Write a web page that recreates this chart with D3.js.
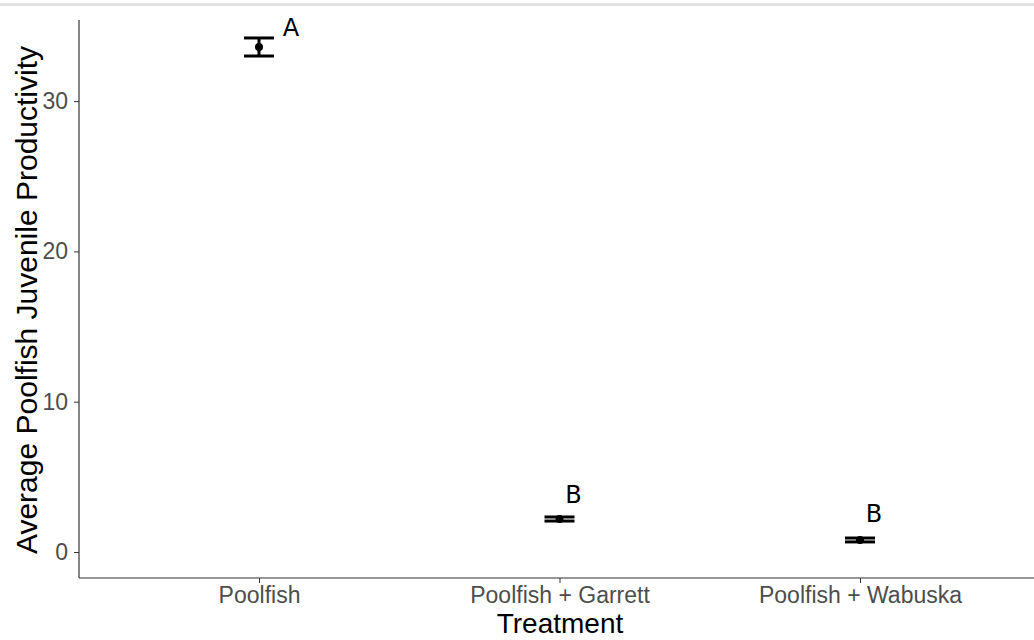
<!DOCTYPE html>
<html>
<head>
<meta charset="utf-8">
<script src="https://cdn.jsdelivr.net/npm/d3@7"></script>
<style>
  body { margin: 0; background: #fff; }
  svg { display: block; font-family: "Liberation Sans", Arial, sans-serif; }
</style>
</head>
<body>
<div id="chart"></div>
<script>
// chart values
const treatments = ['Poolfish', 'Poolfish + Garrett', 'Poolfish + Wabuska'];
const means = [33.6, 2.2, 0.8];
const lowers = [33.0, 2.06, 0.67];
const uppers = [34.2, 2.33, 0.93];
const letters = ['A', 'B', 'B'];
const yTicks = [0, 10, 20, 30];

const width = 1034, height = 640;
const padLeft = 79, padRight = 1034, padTop = 20, padBottom = 578;
// letters were hand placed in the original, so nudge each one
const letterDx = [32, 14, 14];
const letterDy = [-2, -14, -16];

const svg = d3.select('#chart').append('svg')
  .attr('width', width)
  .attr('height', height);

// thin grey band at the very top
svg.append('rect')
  .attr('x', 0).attr('y', 3).attr('width', width).attr('height', 3)
  .attr('fill', '#e2e2e2');

const x = d3.scalePoint()
  .domain(treatments)
  .range([259, 860]);

const y = d3.scaleLinear()
  .domain([0, 10])
  .range([552, 401.7]);

// axes
const yAxis = d3.axisLeft(y).tickValues(yTicks).tickSize(5).tickPadding(6);
const gy = svg.append('g')
  .attr('transform', `translate(${padLeft},0)`)
  .call(yAxis);
gy.select('.domain').attr('d', `M0,${padTop}V${padBottom}`).attr('stroke', '#333').attr('stroke-width', 1.2);
gy.selectAll('.tick line').attr('stroke', '#333');
gy.selectAll('.tick text').attr('fill', '#4d4d4d').style('font-size', '23px');

const xAxis = d3.axisBottom(x).tickSize(5).tickPadding(4);
const gx = svg.append('g')
  .attr('transform', `translate(0,${padBottom})`)
  .call(xAxis);
gx.select('.domain').attr('d', `M${padLeft},0H${padRight}`).attr('stroke', '#333').attr('stroke-width', 1.2);
gx.selectAll('.tick line').attr('stroke', '#333');
gx.selectAll('.tick text').attr('fill', '#4d4d4d').style('font-size', '23px');

// axis titles
svg.append('text')
  .attr('x', 560).attr('y', 633)
  .attr('text-anchor', 'middle')
  .style('font-size', '28px')
  .text('Treatment');

svg.append('text')
  .attr('transform', `translate(37,${(padTop + padBottom) / 2 + 1}) rotate(-90)`)
  .attr('text-anchor', 'middle')
  .style('font-size', '30px')
  .text('Average Poolfish Juvenile Productivity');

// error bars
const hw = 15;
const bars = svg.append('g').selectAll('g')
  .data(treatments)
  .enter().append('g');

bars.append('line')
  .attr('x1', d => x(d)).attr('x2', d => x(d))
  .attr('y1', (d, i) => y(uppers[i])).attr('y2', (d, i) => y(lowers[i]))
  .attr('stroke', '#000').attr('stroke-width', 3);
bars.append('line')
  .attr('x1', d => x(d) - hw).attr('x2', d => x(d) + hw)
  .attr('y1', (d, i) => y(uppers[i])).attr('y2', (d, i) => y(uppers[i]))
  .attr('stroke', '#000').attr('stroke-width', 3);
bars.append('line')
  .attr('x1', d => x(d) - hw).attr('x2', d => x(d) + hw)
  .attr('y1', (d, i) => y(lowers[i])).attr('y2', (d, i) => y(lowers[i]))
  .attr('stroke', '#000').attr('stroke-width', 3);
bars.append('circle')
  .attr('cx', d => x(d))
  .attr('cy', (d, i) => y(means[i]))
  .attr('r', 4)
  .attr('fill', '#000');

// significance letters
bars.append('text')
  .attr('x', (d, i) => x(d) + letterDx[i])
  .attr('y', (d, i) => y(uppers[i]) + letterDy[i])
  .attr('text-anchor', 'middle')
  .style('font-family', '"DejaVu Sans", sans-serif')
  .style('font-size', '24px')
  .text((d, i) => letters[i]);
</script>
</body>
</html>
